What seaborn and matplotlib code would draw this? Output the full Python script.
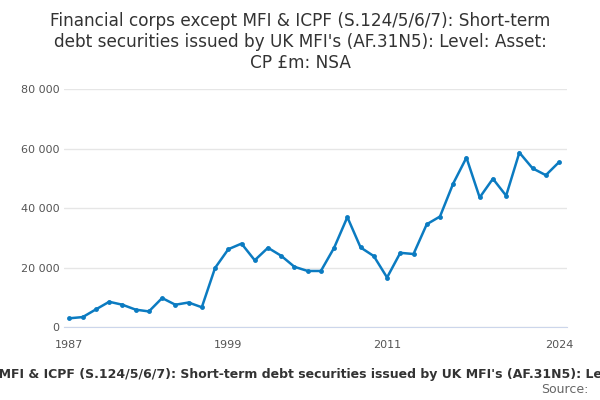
import numpy as np
import pandas as pd
import matplotlib
matplotlib.use("Agg")
import matplotlib.pyplot as plt
import seaborn as sns

years = list(range(1987, 2025))
values = [3000, 3400, 6000, 8550, 7550, 5900, 5300, 9800, 7550, 8300, 6700, 19900,
          26200, 28100, 22500, 26700, 24000, 20300, 18900, 18900, 26700, 37000, 26800,
          23900, 16700, 25000, 24600, 34600, 37200, 48300, 57000, 43600, 49900, 44200,
          58700, 53400, 51100, 55500]
yticks = [0, 20000, 40000, 60000, 80000]
xlabels = [1987, 1999, 2011, 2024]

df = pd.DataFrame({"year": years, "value": values})

sns.set_style("white")
plt.rcParams['font.family'] = ['DejaVu Sans']
fig = plt.figure(figsize=(6, 4), dpi=100)
ax = fig.add_axes([0.107, 0.182, 0.838, 0.595])

color = "#0b7bc1"
sns.lineplot(data=df, x="year", y="value", ax=ax, color=color, linewidth=1.8,
             marker="o", markersize=3.5, markeredgewidth=0)

ax.set_ylim(0, 80000)
ax.set_xlim(1986.6, 2024.6)
ax.set_yticks(yticks)
ax.set_yticklabels([f"{v:,}".replace(",", " ") for v in yticks], fontsize=8, color="#555555")
ax.set_xticks(list(range(1987, 2025, 4)) + [2024], minor=True)
ax.set_xticks(xlabels)
ax.set_xticklabels([str(x) for x in xlabels], fontsize=8, color="#555555")
ax.tick_params(axis="x", which="both", length=6, color="#ccd6eb", direction="out")
ax.tick_params(axis="y", length=0)
ax.grid(axis="y", color="#e6e6e6", linewidth=1)
ax.set_xlabel("")
ax.set_ylabel("")
for s in ["top", "right", "left"]:
    ax.spines[s].set_visible(False)
ax.spines["bottom"].set_color("#ccd6eb")

fig.text(0.5, 0.97, "Financial corps except MFI & ICPF (S.124/5/6/7): Short-term\n"
         "debt securities issued by UK MFI's (AF.31N5): Level: Asset:\nCP £m: NSA",
         ha="center", va="top", fontsize=12.2, color="#333333", linespacing=1.2)
fig.text(0.5, 0.064, "Financial corps except MFI & ICPF (S.124/5/6/7): Short-term debt securities issued by UK MFI's (AF.31N5): Level: Asset: CP £m: NSA",
         ha="center", va="center", fontsize=9, fontweight="bold", color="#333333")
fig.text(0.98, 0.01, "Source:", ha="right", va="bottom", fontsize=9, color="#666666")

fig.savefig("out.png", dpi=100)
